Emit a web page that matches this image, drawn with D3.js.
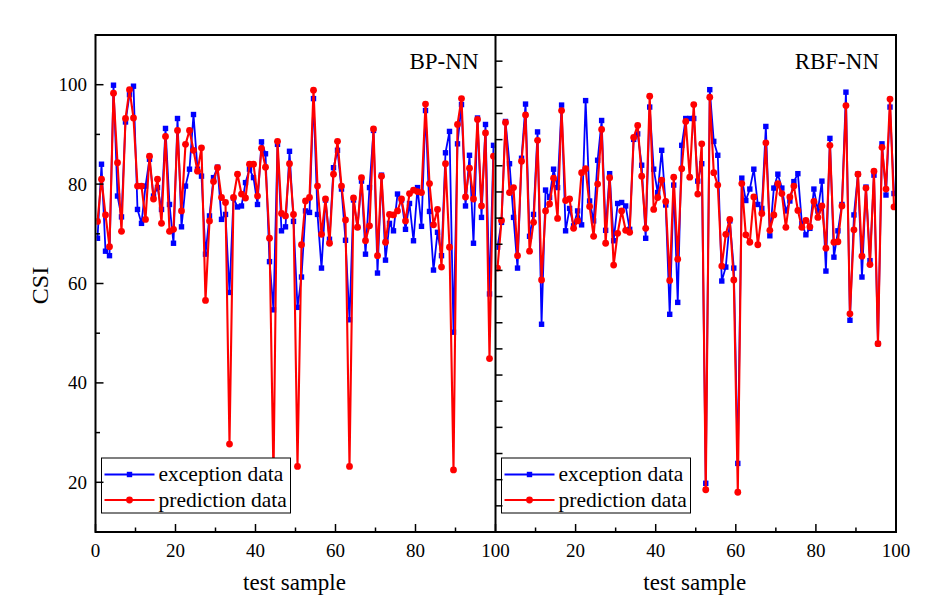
<!DOCTYPE html>
<html>
<head>
<meta charset="utf-8">
<script src="https://cdn.jsdelivr.net/npm/d3@7"></script>
<style>
  html, body { margin: 0; padding: 0; background: #fff; }
  svg text { font-family: "Liberation Serif", "Times New Roman", serif; fill: #000; }
</style>
</head>
<body>
<svg id="chart" width="940" height="614"></svg>
<script>
// ---------------- DATA ----------------
const panelTitles = ["BP-NN", "RBF-NN"];
const seriesNames = ["exception data", "prediction data"];
const samples = d3.range(1, 101); // test sample index 1..100

const bpExpected = [69.1,84.0,66.5,65.6,99.9,77.6,73.4,92.5,98.0,99.7,74.9,72.1,79.6,85.0,77.6,79.3,74.9,91.2,75.9,68.1,
  93.2,71.4,79.6,83.0,94.0,83.0,81.6,65.9,73.6,81.3,83.4,72.9,73.9,58.2,77.2,75.4,75.6,80.3,83.0,81.3,
  75.9,88.5,86.1,64.4,54.7,88.0,70.6,71.4,86.6,72.5,55.2,61.3,74.6,74.3,97.2,73.9,63.1,76.8,68.9,83.3,
  86.8,79.0,68.7,52.7,76.8,71.3,80.6,65.9,79.3,90.8,62.1,81.8,64.7,72.1,70.6,78.0,76.8,70.9,76.1,68.6,
  79.3,71.5,94.8,74.5,62.7,70.3,65.6,86.3,90.6,50.2,88.1,96.0,75.6,85.8,68.1,93.3,73.3,92.0,57.9,87.8];
const bpPredicted = [72.5,81.0,73.8,67.4,98.3,84.3,70.5,93.2,99.0,93.3,79.6,79.6,72.9,85.6,77.0,81.0,72.1,89.6,70.5,70.9,
  90.8,74.6,88.0,90.8,86.8,82.6,87.3,56.6,72.6,80.5,83.3,77.3,76.3,27.7,77.3,82.0,78.0,77.2,84.0,84.0,
  77.6,87.2,83.4,69.1,21.0,88.6,74.1,73.6,84.1,73.9,23.2,67.8,76.6,77.3,98.9,79.6,69.9,77.0,68.1,82.0,
  88.6,79.6,72.8,23.2,77.2,71.3,81.3,68.6,71.6,91.1,65.6,81.6,68.3,73.9,73.8,74.6,77.0,72.6,78.1,78.8,
  78.5,78.3,96.1,80.1,71.8,74.9,63.3,84.1,67.3,22.5,92.0,97.2,77.4,83.2,77.0,93.0,75.6,90.3,44.9,85.6];
const rbfExpected = [67.3,72.3,92.6,84.1,73.3,63.1,85.2,96.1,69.5,73.9,90.5,51.8,78.8,77.3,83.0,79.3,95.9,70.6,75.1,71.6,
  74.6,71.8,96.8,76.6,72.6,84.8,92.8,70.7,82.1,68.6,76.1,76.3,75.6,70.9,89.0,90.1,83.8,69.1,95.5,83.0,
  78.3,86.8,75.8,53.8,79.8,56.2,87.8,93.2,93.2,93.2,80.6,84.1,19.8,99.0,88.6,85.8,60.5,63.3,72.6,63.1,
  23.8,81.2,76.7,79.0,83.0,75.9,75.1,91.6,69.6,79.2,82.0,79.2,74.6,76.6,80.5,82.1,72.1,69.8,71.1,79.0,
  74.6,80.6,62.5,89.2,65.3,70.6,75.9,98.5,52.6,73.8,82.0,61.3,79.4,64.6,81.8,47.9,88.1,77.8,95.5,78.1];
const rbfPredicted = [63.1,72.7,92.4,78.3,79.3,65.6,84.6,93.9,66.5,72.3,88.8,60.7,74.6,76.0,81.2,73.1,94.8,76.7,77.0,71.1,
  72.6,82.3,83.1,75.5,69.5,80.0,91.0,68.1,81.3,63.7,70.1,74.6,70.7,70.3,89.4,91.8,81.6,71.1,97.7,74.9,
  77.3,80.8,76.5,60.6,81.4,64.9,83.1,92.6,81.4,96.0,78.0,88.1,18.5,97.5,82.3,79.8,63.5,69.9,72.9,60.7,
  18.0,80.1,69.8,68.3,77.4,67.8,74.1,88.3,70.7,73.8,80.1,78.1,71.3,77.4,79.6,74.7,71.3,72.7,71.4,76.5,
  73.3,75.6,67.1,87.8,68.3,68.4,75.6,95.8,53.9,70.8,82.0,65.5,79.2,63.8,82.6,47.9,87.4,79.0,97.1,75.4];

const yTickLabels = [20, 40, 60, 80, 100];
const xTickLabelsLeft = [0, 20, 40, 60, 80, 100];
const xTickLabelsRight = [20, 40, 60, 80, 100];

// ---------------- LAYOUT ----------------
const svg = d3.select("#chart");
const plotTop = 35, plotBottom = 532;
const leftX0 = 95.5, midX = 495.5, rightX1 = 896;
const BLUE = "#0000ff", RED = "#ff0000";
const FONT_TICK = 19;

const y = d3.scaleLinear().domain([10, 110]).range([plotBottom, plotTop]);
const xL = d3.scaleLinear().domain([0, 100]).range([leftX0, midX]);
const xR = d3.scaleLinear().domain([0, 100]).range([midX, rightX1]);

const panels = [
  { title: panelTitles[0], x: xL, exp: bpExpected, pred: bpPredicted, labels: xTickLabelsLeft },
  { title: panelTitles[1], x: xR, exp: rbfExpected, pred: rbfPredicted, labels: xTickLabelsRight }
];

const defs = svg.append("defs");

panels.forEach((p, pi) => {
  const [x0, x1] = p.x.range();
  const clipId = "clip" + pi;
  defs.append("clipPath").attr("id", clipId)
    .append("rect").attr("x", x0 + 1).attr("y", plotTop).attr("width", x1 - x0 - 2).attr("height", plotBottom - plotTop);

  const g = svg.append("g").attr("clip-path", `url(#${clipId})`);
  const px = i => p.x(samples[i] - 0.5);

  const line = d3.line().x((d, i) => px(i)).y(d => y(d));

  // expected (blue squares)
  g.append("path").datum(p.exp).attr("d", line)
    .attr("fill", "none").attr("stroke", BLUE).attr("stroke-width", 1.8).attr("stroke-linejoin", "round");
  g.selectAll(".sq").data(p.exp).join("rect")
    .attr("x", (d, i) => px(i) - 2.7).attr("y", d => y(d) - 2.7)
    .attr("width", 5.4).attr("height", 5.4).attr("fill", BLUE);

  // predicted (red circles)
  g.append("path").datum(p.pred).attr("d", line)
    .attr("fill", "none").attr("stroke", RED).attr("stroke-width", 2.1).attr("stroke-linejoin", "round");
  g.selectAll(".ci").data(p.pred).join("circle")
    .attr("cx", (d, i) => px(i)).attr("cy", d => y(d)).attr("r", 3.4).attr("fill", RED);

  // bottom ticks (inward)
  const ticks = d3.range(0, 101, 10);
  svg.append("g").selectAll("line").data(ticks.filter(t => !(pi === 1 && t === 0))).join("line")
    .attr("x1", d => p.x(d)).attr("x2", d => p.x(d))
    .attr("y1", plotBottom).attr("y2", d => plotBottom - (d % 20 === 0 ? 8 : 4.5))
    .attr("stroke", "#000").attr("stroke-width", 1.5);

  svg.append("g").selectAll("text").data(p.labels).join("text")
    .attr("x", d => p.x(d)).attr("y", 557)
    .attr("text-anchor", "middle").attr("font-size", FONT_TICK)
    .text(d => d);

  // x title
  svg.append("text").attr("x", (x0 + x1) / 2 - 1).attr("y", 590)
    .attr("text-anchor", "middle").attr("font-size", 23).text("test sample");

  // panel title
  svg.append("text").attr("x", x1 - 17).attr("y", 69)
    .attr("text-anchor", "end").attr("font-size", 23).text(p.title);

  // legend
  const lg = svg.append("g").attr("transform", `translate(${x0 + 6},458)`);
  lg.append("rect").attr("x", 0).attr("y", 0).attr("width", 189).attr("height", 55)
    .attr("fill", "#fff").attr("stroke", "#000").attr("stroke-width", 1);
  const rows = [
    { name: seriesNames[0], color: BLUE, sq: true, yy: 16.5 },
    { name: seriesNames[1], color: RED, sq: false, yy: 42 }
  ];
  rows.forEach(r => {
    lg.append("line").attr("x1", 3).attr("x2", 53).attr("y1", r.yy).attr("y2", r.yy)
      .attr("stroke", r.color).attr("stroke-width", 2);
    if (r.sq) {
      lg.append("rect").attr("x", 28 - 2.7).attr("y", r.yy - 2.7).attr("width", 5.4).attr("height", 5.4).attr("fill", r.color);
    } else {
      lg.append("circle").attr("cx", 28).attr("cy", r.yy).attr("r", 3.4).attr("fill", r.color);
    }
    lg.append("text").attr("x", 57).attr("y", r.yy + 6.5).attr("font-size", 21.5).text(r.name);
  });
});

// left y axis: ticks inward, labels outside
const yTicks = d3.range(20, 110, 10);
svg.append("g").selectAll("line").data(yTicks).join("line")
  .attr("x1", leftX0).attr("x2", d => leftX0 + (d % 20 === 0 ? 8 : 4.5))
  .attr("y1", d => y(d)).attr("y2", d => y(d))
  .attr("stroke", "#000").attr("stroke-width", 1.5);
svg.append("g").selectAll("text").data(yTickLabels).join("text")
  .attr("x", 87).attr("y", d => y(d) + 6.5)
  .attr("text-anchor", "end").attr("font-size", FONT_TICK).text(d => d);

// right panel's own y axis ticks along the divider (19 equal divisions)
const yDiv = d3.scaleLinear().domain([0, 19]).range([plotBottom, plotTop]);
svg.append("g").selectAll("line").data(d3.range(1, 19)).join("line")
  .attr("x1", midX).attr("x2", midX + 7)
  .attr("y1", d => yDiv(d)).attr("y2", d => yDiv(d))
  .attr("stroke", "#000").attr("stroke-width", 1.5);

// y title
svg.append("text").attr("transform", `translate(48,${(plotTop + plotBottom) / 2 + 2}) rotate(-90)`)
  .attr("text-anchor", "middle").attr("font-size", 24).text("CSI");

// frame
svg.append("rect").attr("x", leftX0).attr("y", plotTop).attr("width", rightX1 - leftX0).attr("height", plotBottom - plotTop)
  .attr("fill", "none").attr("stroke", "#000").attr("stroke-width", 2);
svg.append("line").attr("x1", midX).attr("x2", midX).attr("y1", plotTop).attr("y2", plotBottom)
  .attr("stroke", "#000").attr("stroke-width", 2);
</script>
</body>
</html>
